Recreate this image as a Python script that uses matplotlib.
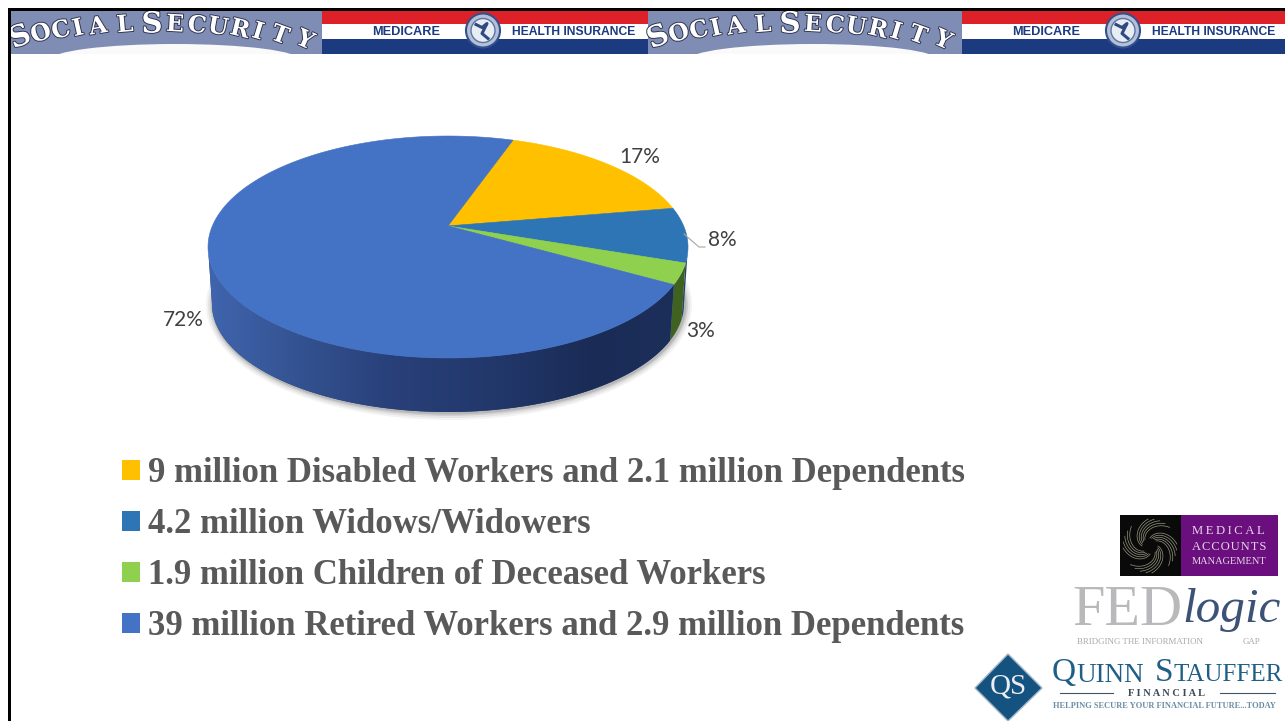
import numpy as np
import matplotlib
matplotlib.use("Agg")
import matplotlib.pyplot as plt
import matplotlib.patheffects as pe
from matplotlib.colors import LinearSegmentedColormap
from matplotlib.patches import Circle, Ellipse, Polygon, Rectangle

# Data
shares = [17, 8, 3, 72]
share_labels = ["17%", "8%", "3%", "72%"]
legend_labels = [
    "9 million Disabled Workers and 2.1 million Dependents",
    "4.2 million Widows/Widowers",
    "1.9 million Children of Deceased Workers",
    "39 million Retired Workers and 2.9 million Dependents",
]
colors = ["#FFC000", "#2E75B6", "#8FD04E", "#4472C4"]
wall_colors = ["#9A7400", "#1C4670", "#3F6220", "#263F75"]

# Pie geometry, in figure pixels
CX, CY, RX, RY = 448, 247, 240, 111
BOTTOM_CY, BOTTOM_RX, BOTTOM_RY = 304, 236, 108
TILT = 0.19
START = 19.0

fig = plt.figure(figsize=(12.85, 7.21), dpi=100)
ax = fig.add_axes([0, 0, 1, 1])


def tilted(angle):
    # angle on the flat pie (clockwise from 12 o'clock) -> angle on the tilted ellipse
    rad = np.radians(angle)
    u, v = np.sin(rad), np.cos(rad)
    v2 = (v + TILT) / (1 + TILT * v)
    u2 = u * np.sqrt(1 - TILT ** 2) / (1 + TILT * v)
    return np.degrees(np.arctan2(u2, v2)) % 360


def rim(phi, cy=CY, rx=RX, ry=RY):
    rad = np.radians(phi)
    return np.column_stack([CX + rx * np.sin(rad), cy - ry * np.cos(rad)])


def draw_pie():
    edges = START + np.cumsum([0] + shares) * 3.6
    apex = (CX, CY - TILT * RY)

    # soft shadow under the disc
    for grow, alpha in [(7, 0.05), (5, 0.07), (3, 0.1), (1.5, 0.14)]:
        ax.add_patch(Ellipse((CX + 1, BOTTOM_CY + 1), 2 * (BOTTOM_RX + grow), 2 * (BOTTOM_RY + grow),
                             fc="#222222", ec="none", alpha=alpha, zorder=1))

    # side walls, only the front half is visible
    wall_cmap = LinearSegmentedColormap.from_list(
        "wall", ["#4065AE", "#33518F", "#283F78", "#22386B", "#1A2C56", "#1C2F5A"])
    for i in range(len(shares)):
        a0 = tilted(edges[i])
        a1 = tilted(edges[i + 1] % 360)
        if a1 <= a0:
            a1 += 360
        a0, a1 = max(a0, 90), min(a1, 270)
        if a1 <= a0:
            continue
        phi = np.linspace(a0, a1, 120)
        pts = np.vstack([rim(phi), rim(phi[::-1], BOTTOM_CY, BOTTOM_RX, BOTTOM_RY)])
        poly = Polygon(pts, fc=wall_colors[i], ec="none", zorder=2)
        ax.add_patch(poly)
        if i == 3:
            img = ax.imshow(np.linspace(0, 1, 256).reshape(1, -1), cmap=wall_cmap, aspect="auto",
                            extent=(CX - RX, CX + RX, 430, 240), zorder=2.5)
            img.set_clip_path(poly)

    # top faces
    for i in range(len(shares)):
        a0 = tilted(edges[i])
        a1 = tilted(edges[i + 1] % 360)
        if a1 <= a0:
            a1 += 360
        pts = np.vstack([[apex], rim(np.linspace(a0, a1, 200))])
        ax.add_patch(Polygon(pts, fc=colors[i], ec=colors[i], lw=0.4, zorder=3))

    # leader line for the 8% label
    ax.plot([684, 699, 705], [234, 247, 247], color="#A6A6A6", lw=0.8, zorder=4)


def draw_social_security(x0):
    ax.add_patch(Rectangle((x0, 10), 314, 44, fc="#7F8CB3", ec="none", zorder=1))
    ax.add_patch(Ellipse((x0 + 165, 60), 250, 32, fc="#FAFAFB", ec="none", zorder=1.1))
    ax.add_patch(Rectangle((x0 - 2, 54), 322, 24, fc="white", ec="none", zorder=1.2))
    letters = "SOCIALSECURITY"
    xs = [20, 41, 61, 78, 98, 125, 152, 175, 197, 218, 240, 258, 280, 305]
    for ch, lx in zip(letters, xs):
        ly = 24 + ((lx - 155) / 150) ** 2 * 16
        rot = -np.degrees(np.arctan(2 * (lx - 155) / 150 ** 2 * 16)) * 2
        size = 21 if ch == "S" else 17
        ax.text(x0 + lx - 10, ly, ch, family="DejaVu Serif", weight="bold", fontsize=size, color="white",
                ha="center", va="center", rotation=rot, zorder=2,
                path_effects=[pe.withStroke(linewidth=1.3, foreground="#2A2F4A")])


def draw_medicare(x0):
    ax.add_patch(Rectangle((x0, 10), 326, 14, fc="#DE2128", ec="none", zorder=1))
    ax.add_patch(Rectangle((x0, 24), 326, 15, fc="white", ec="none", zorder=1))
    ax.add_patch(Rectangle((x0, 39), 326, 15, fc="#1B3A80", ec="none", zorder=1))
    ax.text(x0 + 50, 32, "MEDICARE", family="Liberation Sans", weight="bold",
            fontsize=9.2, color="#1B3A80", va="center", ha="left", zorder=2)
    ax.text(x0 + 190, 32, "HEALTH INSURANCE", family="Liberation Sans", weight="bold",
            fontsize=8.7, color="#1B3A80", va="center", ha="left", zorder=2)
    seal = (x0 + 161, 30.5)
    ax.add_patch(Circle(seal, 17, fc="#B4C0D8", ec="#33508C", lw=1.5, zorder=2))
    ax.add_patch(Circle(seal, 12, fc="#E8ECF3", ec="#5C74A4", lw=1, zorder=2))
    ax.plot([seal[0] - 7, seal[0] - 1, seal[0] + 4, seal[0] - 1, seal[0] + 5],
            [seal[1] - 6, seal[1] - 3, seal[1] - 7, seal[1] + 3, seal[1] + 8],
            color="#2F4A80", lw=2.2, zorder=3)


def draw_medical_logo():
    ax.add_patch(Rectangle((1120, 515), 61, 61, fc="#0A0A0A", ec="none"))
    ax.add_patch(Rectangle((1181, 515), 97, 61, fc="#6C0F7E", ec="none"))
    center = np.array([1150, 546])
    # four groups of curved strokes around the centre
    for quarter in range(4):
        base = np.radians(quarter * 90)
        for k in range(5):
            t = np.linspace(0, 1, 20)
            r = 8 + 19 * t
            ang = base + 0.22 * k + 1.5 * t
            ax.plot(center[0] + r * np.cos(ang), center[1] + r * np.sin(ang), color="#97967E", lw=0.5)
    lines = [("M\u2009E\u2009D\u2009I\u2009C\u2009A\u2009L", 531, 9.2),
             ("A\u200aC\u200aC\u200aO\u200aU\u200aN\u200aT\u200aS", 547, 9),
             ("MANAGEMENT", 562, 7.5)]
    for word, y, size in lines:
        ax.text(1192, y, word, family="Liberation Serif", color="#E4D6E8", fontsize=size, va="center", ha="left")


def draw_fed_logo():
    ax.text(1072, 611, "FED", family="Liberation Serif", color="#B9B9BB", fontsize=42, va="center", ha="left")
    ax.text(1182, 610, "logic", family="Liberation Serif", style="italic", color="#3C5377", fontsize=35.5,
            va="center", ha="left")
    ax.text(1077, 642, "BRIDGING THE INFORMATION", family="Liberation Serif", color="#A8A8A8", fontsize=6.4,
            va="center", ha="left")
    ax.text(1243, 642, "GAP", family="Liberation Serif", color="#A8A8A8", fontsize=6.4, va="center", ha="left")


def draw_quinn_logo():
    ax.add_patch(Polygon([(1008, 654), (1042, 688), (1008, 721), (975, 688)], fc="#14527F", ec="#9FB4C6", lw=1))
    ax.text(1008, 687, "QS", family="Liberation Serif", color="#E8EEF3", fontsize=21, va="center", ha="center")
    ax.text(1052, 673, "Q", family="Liberation Serif", color="#1F5F86", fontsize=24, va="center", ha="left")
    ax.text(1076, 675, "UINN", family="Liberation Serif", color="#1F5F86", fontsize=19.5, va="center", ha="left")
    ax.text(1155, 673, "S", family="Liberation Serif", color="#1F5F86", fontsize=24, va="center", ha="left")
    ax.text(1173, 675, "TAUFFER", family="Liberation Serif", color="#1F5F86", fontsize=18, va="center", ha="left")
    ax.text(1167, 693, "F I N A N C I A L", family="Liberation Serif", weight="bold", color="#3A4A55", fontsize=7.5,
            va="center", ha="center")
    ax.plot([1060, 1113], [693, 693], color="#445566", lw=0.8)
    ax.plot([1220, 1275], [693, 693], color="#445566", lw=0.8)
    ax.text(1164, 706, "HELPING SECURE YOUR FINANCIAL FUTURE...TODAY", family="Liberation Serif", weight="bold",
            color="#6A8CA3", fontsize=6, va="center", ha="center")


# Header and slide border
for x in (10, 648):
    draw_social_security(x)
for x in (322, 962):
    draw_medicare(x)
ax.add_patch(Rectangle((8, 7.5), 1277, 3, fc="black", ec="none", zorder=5))
ax.add_patch(Rectangle((8, 7.5), 2.5, 714, fc="black", ec="none", zorder=5))

draw_pie()

# Percentage labels
label_pos = [(639.5, 157), (722.5, 240), (701, 331), (183.5, 320)]
for text, (x, y) in zip(share_labels, label_pos):
    ax.text(x, y, text, family="Lato", fontsize=15, color="#404040", ha="center", va="center", zorder=6)

# Legend
handles = [Rectangle((0, 0), 1, 1, fc=c, ec="none") for c in colors]
ax.legend(handles, legend_labels, loc="upper left", bbox_to_anchor=(122, 457), bbox_transform=ax.transData,
          frameon=False, handlelength=0.52, handleheight=0.52, handletextpad=0.23, labelspacing=0.52,
          borderpad=0, borderaxespad=0, labelcolor="#595959",
          prop={"family": "Liberation Serif", "weight": "bold", "size": 25})

draw_medical_logo()
draw_fed_logo()
draw_quinn_logo()

ax.set_xlim(0, 1285)
ax.set_ylim(721, 0)
ax.axis("off")

fig.savefig("out.png", dpi=100, facecolor="white")
